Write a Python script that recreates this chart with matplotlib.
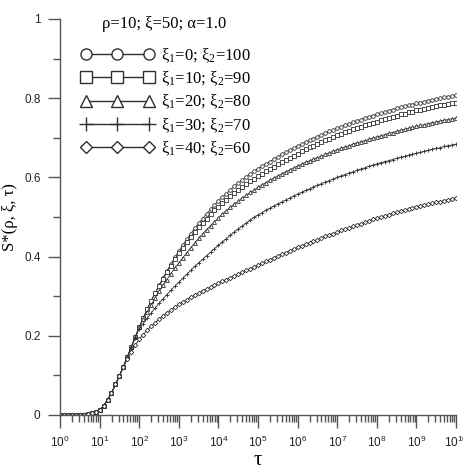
import matplotlib
matplotlib.use("Agg")
import matplotlib.pyplot as plt
import numpy as np
from matplotlib.ticker import LogLocator, FixedLocator, MultipleLocator
from matplotlib.lines import Line2D

# tau grid: 0.1 decade steps from 10^0 to 10^10
tau = np.logspace(0, 10, 101)

# shared start of all curves (log10 tau = 0.0 ... 1.5)
rise = [0, 0, 0, 0, 0, 0, 0.001, 0.002, 0.004, 0.007,
        0.013, 0.023, 0.038, 0.056, 0.077, 0.099]

# log10 tau = 1.6 ... 10.0
s_xi0 = [0.122, 0.147, 0.172, 0.197, 0.222,
         0.245, 0.267, 0.288, 0.308, 0.327, 0.346, 0.364, 0.381, 0.398, 0.414,
         0.429, 0.444, 0.458, 0.471, 0.484, 0.496, 0.508, 0.519, 0.530, 0.540,
         0.550, 0.559, 0.568, 0.577, 0.585, 0.593, 0.601, 0.608, 0.615, 0.622,
         0.628, 0.634, 0.640, 0.646, 0.652, 0.658, 0.664, 0.669, 0.674, 0.679,
         0.684, 0.689, 0.694, 0.698, 0.703, 0.707, 0.712, 0.716, 0.720, 0.724,
         0.728, 0.732, 0.736, 0.739, 0.743, 0.746, 0.750, 0.753, 0.756, 0.759,
         0.762, 0.765, 0.768, 0.771, 0.774, 0.777, 0.779, 0.782, 0.784, 0.787,
         0.789, 0.791, 0.794, 0.796, 0.798, 0.800, 0.802, 0.804, 0.805, 0.807]

s_xi10 = [0.122, 0.147, 0.172, 0.197, 0.222,
          0.245, 0.267, 0.288, 0.307, 0.325, 0.343, 0.360, 0.376, 0.393, 0.408,
          0.422, 0.436, 0.450, 0.462, 0.474, 0.485, 0.496, 0.507, 0.517, 0.526,
          0.535, 0.544, 0.552, 0.561, 0.568, 0.576, 0.583, 0.590, 0.596, 0.603,
          0.609, 0.615, 0.621, 0.627, 0.633, 0.639, 0.645, 0.650, 0.655, 0.660,
          0.666, 0.671, 0.676, 0.680, 0.685, 0.689, 0.694, 0.698, 0.702, 0.706,
          0.710, 0.714, 0.718, 0.721, 0.725, 0.728, 0.732, 0.735, 0.738, 0.741,
          0.744, 0.747, 0.750, 0.753, 0.756, 0.759, 0.761, 0.764, 0.766, 0.769,
          0.771, 0.773, 0.776, 0.778, 0.780, 0.782, 0.784, 0.786, 0.787, 0.789]

s_xi20 = [0.122, 0.147, 0.172, 0.197, 0.222,
          0.242, 0.260, 0.278, 0.295, 0.312, 0.327, 0.342, 0.357, 0.371, 0.384,
          0.397, 0.410, 0.422, 0.434, 0.446, 0.457, 0.468, 0.478, 0.488, 0.498,
          0.507, 0.516, 0.525, 0.533, 0.540, 0.548, 0.555, 0.562, 0.568, 0.575,
          0.581, 0.587, 0.593, 0.598, 0.604, 0.609, 0.614, 0.619, 0.624, 0.629,
          0.633, 0.638, 0.642, 0.646, 0.650, 0.654, 0.658, 0.662, 0.666, 0.670,
          0.673, 0.677, 0.680, 0.684, 0.687, 0.690, 0.693, 0.696, 0.699, 0.702,
          0.705, 0.708, 0.711, 0.713, 0.716, 0.719, 0.721, 0.724, 0.726, 0.729,
          0.731, 0.733, 0.736, 0.738, 0.740, 0.742, 0.744, 0.746, 0.748, 0.750]

s_xi30 = [0.122, 0.147, 0.171, 0.195, 0.218,
          0.231, 0.244, 0.257, 0.270, 0.282, 0.293, 0.304, 0.315, 0.325, 0.335,
          0.345, 0.355, 0.365, 0.375, 0.384, 0.393, 0.402, 0.411, 0.420, 0.428,
          0.437, 0.445, 0.454, 0.462, 0.470, 0.477, 0.484, 0.492, 0.499, 0.505,
          0.511, 0.517, 0.522, 0.528, 0.533, 0.538, 0.543, 0.548, 0.553, 0.558,
          0.562, 0.567, 0.571, 0.576, 0.580, 0.584, 0.588, 0.592, 0.596, 0.600,
          0.604, 0.607, 0.611, 0.614, 0.618, 0.621, 0.624, 0.628, 0.631, 0.634,
          0.637, 0.640, 0.642, 0.645, 0.648, 0.651, 0.653, 0.656, 0.658, 0.661,
          0.663, 0.666, 0.668, 0.671, 0.673, 0.675, 0.678, 0.680, 0.682, 0.684]

s_xi40 = [0.121, 0.141, 0.159, 0.176, 0.191,
          0.203, 0.214, 0.224, 0.233, 0.242, 0.250, 0.258, 0.265, 0.272, 0.279,
          0.285, 0.291, 0.297, 0.303, 0.308, 0.313, 0.318, 0.323, 0.328, 0.333,
          0.338, 0.342, 0.347, 0.351, 0.356, 0.360, 0.365, 0.369, 0.374, 0.378,
          0.383, 0.388, 0.392, 0.397, 0.402, 0.406, 0.410, 0.414, 0.419, 0.423,
          0.427, 0.431, 0.435, 0.439, 0.443, 0.447, 0.451, 0.455, 0.458, 0.462,
          0.466, 0.469, 0.473, 0.476, 0.480, 0.483, 0.487, 0.490, 0.494, 0.497,
          0.500, 0.503, 0.506, 0.509, 0.512, 0.515, 0.517, 0.520, 0.522, 0.525,
          0.527, 0.530, 0.532, 0.535, 0.537, 0.539, 0.541, 0.544, 0.546, 0.548]

labels = ["ξ$_1$=0; ξ$_2$=100", "ξ$_1$=10; ξ$_2$=90", "ξ$_1$=20; ξ$_2$=80",
          "ξ$_1$=30; ξ$_2$=70", "ξ$_1$=40; ξ$_2$=60"]
series = [s_xi0, s_xi10, s_xi20, s_xi30, s_xi40]
markers = ["o", "s", "^", "+", "D"]
sizes = [2.6, 2.6, 2.8, 3.4, 2.3]
leg_sizes = [8, 8, 8, 10, 6.5]

plt.rcParams["mathtext.fontset"] = "custom"
plt.rcParams["mathtext.rm"] = "Liberation Serif"
plt.rcParams["mathtext.it"] = "Liberation Serif"

fig = plt.figure(figsize=(4.63, 4.74), dpi=100)
ax = fig.add_axes([0.1296, 0.1245, 0.8554, 0.8355])

line_col = "#303030"
for vals, m, ms in zip(series, markers, sizes):
    y = np.array(rise + vals)
    ax.plot(tau, y, color=line_col, lw=0.6, marker=m, ms=ms,
            mfc="white", mec=line_col, mew=0.6)

ax.set_xscale("log")
ax.set_xlim(1, 1e10)
ax.set_ylim(0, 1)
ax.xaxis.set_major_locator(LogLocator(base=10, numticks=20))
ax.xaxis.set_minor_locator(LogLocator(base=10, subs=np.arange(2, 10), numticks=20))
ax.yaxis.set_major_locator(FixedLocator([0, 0.2, 0.4, 0.6, 0.8, 1.0]))
ax.set_yticklabels(["0", "0.2", "0.4", "0.6", "0.8", "1"])
ax.yaxis.set_minor_locator(MultipleLocator(0.1))

for side in ["top", "right"]:
    ax.spines[side].set_visible(False)
for side in ["left", "bottom"]:
    ax.spines[side].set_color("#555555")
    ax.spines[side].set_linewidth(1.0)

ax.tick_params(which="major", direction="out", length=9, width=1.0,
               color="#555555", labelsize=8.5, pad=5, labelcolor="#222222")
ax.tick_params(which="minor", direction="out", length=5, width=1.0,
               color="#555555")
for t in ax.get_xticklabels() + ax.get_yticklabels():
    t.set_family("Liberation Sans")

ax.set_xlabel("τ", family="Liberation Serif", fontsize=15)
ax.xaxis.set_label_coords(0.5, -0.09)
ax.set_ylabel("S*(ρ, ξ, τ)", family="Liberation Serif", fontsize=12)
ax.yaxis.set_label_coords(-0.105, 0.5)

ax.text(0.263, 0.987, "ρ=10; ξ=50; α=1.0", transform=ax.transAxes,
        ha="center", va="center", family="Liberation Serif", fontsize=12)

handles = [Line2D([], [], color=line_col, lw=1.0, marker=m, ms=s,
                  mfc="white", mec=line_col, mew=1.0)
           for m, s in zip(markers, leg_sizes)]
leg = ax.legend(handles, labels, loc="upper left", bbox_to_anchor=(0.052, 0.931),
                frameon=False, numpoints=3, handlelength=4.4, handletextpad=0.45,
                labelspacing=0.29, borderaxespad=0, borderpad=0,
                prop={"family": "Liberation Serif", "size": 12})

fig.savefig("out.png", dpi=100)
